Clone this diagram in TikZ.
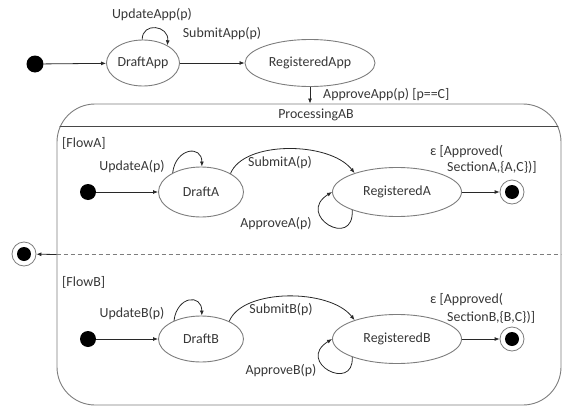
\documentclass[tikz,border=0pt]{standalone}
\usepackage{fontspec}
\setmainfont{Carlito}
\usepackage{tikz}
\usetikzlibrary{arrows.meta, shapes.geometric}
\definecolor{edgecol}{RGB}{40, 40, 40}
\definecolor{outline}{RGB}{125, 125, 125}
\definecolor{ink}{RGB}{55, 55, 55}

\begin{document}
\begin{tikzpicture}[x=1pt, y=-1pt,
      every node/.style={font=\fontsize{13.9}{16}\selectfont, text=ink},
      st/.style={ellipse, draw=outline, line width=0.9pt, inner sep=0pt},
      init/.style={circle, fill=black, inner sep=0pt, minimum size=17pt},
      fin/.style={circle, draw=outline, line width=0.8pt, fill=white,
                  inner sep=0pt, minimum size=24pt,
                  path picture={\fill[black] (path picture bounding box.center) circle (7pt);}},
      ar/.style={-{Latex[length=5pt,width=4pt]}, line width=0.8pt, color=edgecol},
      lbl/.style={inner sep=1pt}
    ]
      \useasboundingbox (0,0) rectangle (563,407);

      % top level
      \node[init] (start) at (35,64) {};
      \node[st, minimum width=73pt, minimum height=46pt] (draftApp) at (143,63) {DraftApp};
      \node[st, minimum width=130pt, minimum height=47pt] (regApp) at (310,63) {RegisteredApp};
      \draw[ar] (start) -- (draftApp);
      \draw[ar] (draftApp) -- (regApp);
      \draw[ar] (draftApp.92) .. controls +(0,-18) and +(2,-20) .. (draftApp.36);
      \node[lbl] (updApp) at (152,15) {UpdateApp(p)};
      \node[lbl] (subApp) at (222,34) {SubmitApp(p)};

      % composite state
      \node[draw=outline, line width=0.9pt, rounded corners=38pt, inner sep=0pt,
            minimum width=504pt, minimum height=301pt] (proc) at (309,254.5) {};
      \draw[ar] (regApp.south) -- (regApp.south |- proc.north);
      \node[lbl, anchor=west] (apprApp) at (322,95) {ApproveApp(p) [p==C]};
      \node[lbl] (procName) at (316,115) {ProcessingAB};
      \begin{scope}
        \clip[rounded corners=38pt] (proc.south west) rectangle (proc.north east);
        \draw[edgecol!85, line width=1.2pt]
          ([yshift=-23pt]proc.north west) -- ([yshift=-23pt]proc.north east);
        \draw[outline, dash pattern=on 4pt off 3pt, line width=0.9pt] (proc.west) -- (proc.east);
      \end{scope}
      \node[fin] (endAll) at (24,254) {};
      \draw[ar] (proc.west) -- (endAll);

      % region A
      \node[lbl, anchor=west] (flowA) at (61,143) {[FlowA]};
      \node[init, minimum size=16pt] (initA) at (88,192) {};
      \node[st, minimum width=85pt, minimum height=50pt] (draftA) at (201,192) {DraftA};
      \node[st, minimum width=129pt, minimum height=49pt] (regA) at (397,192) {RegisteredA};
      \node[fin] (finA) at (512,192) {};
      \draw[ar] (initA) -- (draftA);
      \draw[ar] (draftA.146) .. controls +(3,-25) and +(0,-22) .. (draftA.88);
      \draw[ar] (draftA.32) .. controls +(13,-33) and +(-25,-32) .. (regA.156);
      \draw[ar] (regA.202) .. controls +(2,40) and +(-37,23) .. (regA.180);
      \draw[ar] (regA) -- (finA);
      \node[lbl] (updA) at (132,167) {UpdateA(p)};
      \node[lbl] (subA) at (280,163) {SubmitA(p)};
      \node[lbl] (aprA) at (276,224) {ApproveA(p)};
      \node[lbl, anchor=west] (grdA) at (429,152) {ε [Approved(};
      \node[lbl, anchor=west] (grdA2) at (446,167) {SectionA,\{A,C\})]};

      % region B
      \node[lbl, anchor=west] (flowB) at (61,282) {[FlowB]};
      \node[init, minimum size=16pt] (initB) at (88,339) {};
      \node[st, minimum width=85pt, minimum height=46pt] (draftB) at (201,339) {DraftB};
      \node[st, minimum width=129pt, minimum height=49pt] (regB) at (397,339) {RegisteredB};
      \node[fin] (finB) at (512,339) {};
      \draw[ar] (initB) -- (draftB);
      \draw[ar] (draftB.146) .. controls +(3,-25) and +(0,-22) .. (draftB.88);
      \draw[ar] (draftB.32) .. controls +(13,-33) and +(-25,-32) .. (regB.156);
      \draw[ar] (regB.202) .. controls +(2,36) and +(-37,23) .. (regB.180);
      \draw[ar] (regB) -- (finB);
      \node[lbl] (updB) at (132,314) {UpdateB(p)};
      \node[lbl] (subB) at (281,310) {SubmitB(p)};
      \node[lbl] (aprB) at (281,371) {ApproveB(p)};
      \node[lbl, anchor=west] (grdB) at (429,300) {ε [Approved(};
      \node[lbl, anchor=west] (grdB2) at (446,317) {SectionB,\{B,C\})]};
    \end{tikzpicture}
\end{document}
